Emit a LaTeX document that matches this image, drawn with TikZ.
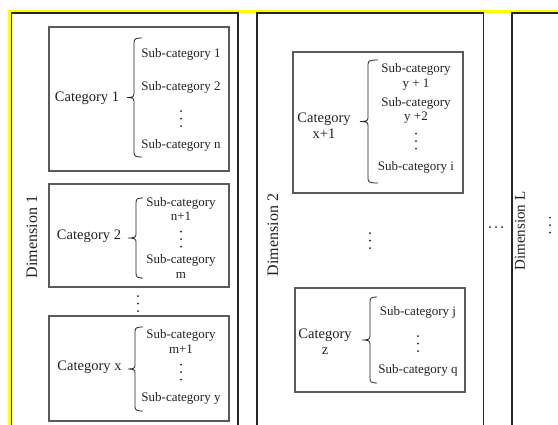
\documentclass[tikz,border=0pt]{standalone}
\usepackage{fontspec}
\setmainfont{Liberation Serif}
\newcommand\cbrace[5]{% #1 xv, #2 xe, #3 xt, #4 ytop, #5 ybot
 \draw[bracestyle] (#2,#4) .. controls ({#1+1},#4) and (#1,{#4+1}) .. (#1,{#4+5})
  -- (#1,{(#4+#5)/2-4}) .. controls (#1,{(#4+#5)/2-1}) and ({#1-1},{(#4+#5)/2}) .. (#3,{(#4+#5)/2})
  .. controls ({#1-1},{(#4+#5)/2}) and (#1,{(#4+#5)/2+1}) .. (#1,{(#4+#5)/2+4})
  -- (#1,{#5-5}) .. controls (#1,{#5-1}) and ({#1+1},#5) .. (#2,#5);}
\definecolor{boxgray}{HTML}{5A5A5A}
\definecolor{txt}{HTML}{222222}
\definecolor{yel}{HTML}{FFFF00}
\begin{document}
\begin{tikzpicture}[x=1pt,y=-1pt,
  panel/.style={draw=black!85, line width=1.1pt},
  catbox/.style={draw=boxgray, line width=1.4pt},
  bracestyle/.style={draw=txt, line width=0.8pt},
  sub/.style={font=\fontsize{13}{14.5}\selectfont, text=txt, inner sep=0pt, align=center},
  cat/.style={font=\fontsize{14.5}{16}\selectfont, text=txt, inner sep=0pt, align=center},
  dimlab/.style={font=\fontsize{16}{18}\selectfont, text=txt, inner sep=0pt, rotate=90},
  vdt/.pic={\fill[txt] (0,-7.5) circle (1pt) (0,0) circle (1pt) (0,7.5) circle (1pt);},
  hdt/.pic={\fill[txt] (-6,0) circle (1pt) (0,0) circle (1pt) (6,0) circle (1pt);}]
\useasboundingbox (0,0) rectangle (558,424);
\clip (0,0) rectangle (558,424);
\fill[white] (0,0) rectangle (558,424);
% yellow frame
\draw[yel, line width=2.6pt] (8,11.3) -- (570,11.3);
\draw[yel, line width=2.6pt] (9.3,10) -- (9.3,440);
% panels
\draw[panel] (11.5,13) rectangle (238,440);
\draw[panel] (257,13) rectangle (483.5,440);
\draw[panel] (512,13) rectangle (600,440);
\node[dimlab] (d1) at (32,237) {Dimension 1};
\node[dimlab] (d2) at (273,235) {Dimension 2};
\node[dimlab, font=\fontsize{15}{17}\selectfont] (dL) at (520,231) {Dimension L};
\pic at (496,227) {hdt};
\pic at (550,225) {vdt};
% ---- panel 1 ----
\draw[catbox] (49,27) rectangle (229,171);
\node[cat] (c1) at (87,98) {Category 1};
\cbrace{134}{142}{127}{38}{157}
\node[sub] (s11) at (181,54) {Sub-category 1};
\node[sub] (s12) at (181,87) {Sub-category 2};
\pic at (181,118.5) {vdt};
\node[sub] (s1n) at (181,145) {Sub-category n};

\draw[catbox] (49,184) rectangle (229,287);
\node[cat] (c2) at (89,236) {Category 2};
\cbrace{136}{143}{128}{198}{278}
\node[sub] (s21) at (181,209) {Sub-category\\n+1};
\pic at (181,239) {vdt};
\node[sub] (s2m) at (181,266.5) {Sub-category\\m};

\pic at (138,303.5) {vdt};

\draw[catbox] (49,316) rectangle (229,421);
\node[cat] (cx) at (89.5,367) {Category x};
\cbrace{135}{143}{128}{327}{411}
\node[sub] (sx1) at (181,341.5) {Sub-category\\m+1};
\pic at (181,372) {vdt};
\node[sub] (sxy) at (181,398) {Sub-category y};
% ---- panel 2 ----
\draw[catbox] (293,52) rectangle (463,193);
\node[cat] (cx1) at (324,125.5) {Category\\x+1};
\cbrace{368}{378}{360}{60}{183}
\node[sub] (sy1) at (416,77) {Sub-category\\y + 1};
\node[sub] (sy2) at (416,110.5) {Sub-category\\y +2};
\pic at (416,141) {vdt};
\node[sub] (si) at (416,167) {Sub-category i};

\pic at (370,240.5) {vdt};

\draw[catbox] (295,288) rectangle (465,392);
\node[cat] (cz) at (325,342) {Category\\z};
\cbrace{370}{377}{362}{297}{383}
\node[sub] (sj) at (418,312) {Sub-category j};
\pic at (418,343.5) {vdt};
\node[sub] (sq) at (418,370) {Sub-category q};
\end{tikzpicture}
\end{document}
